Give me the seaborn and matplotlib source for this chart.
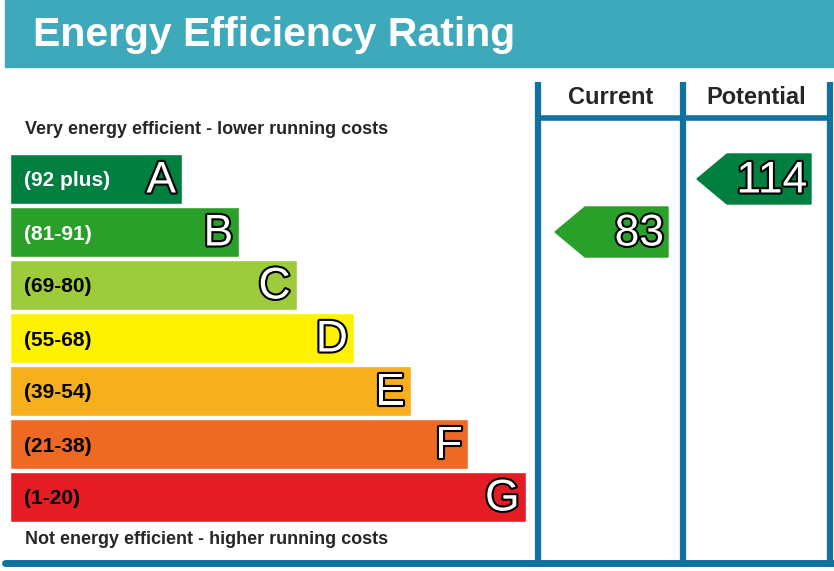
import matplotlib
matplotlib.use("Agg")
import matplotlib.pyplot as plt
import matplotlib.patheffects as pe
from matplotlib.patches import Rectangle, Polygon
import seaborn as sns

# data
letters = ["A", "B", "C", "D", "E", "F", "G"]
ranges = ["(92 plus)", "(81-91)", "(69-80)", "(55-68)", "(39-54)", "(21-38)", "(1-20)"]
colors = ["#008040", "#2a9f2a", "#9dcb3c", "#fff200", "#f7af1d", "#ee6a24", "#e31d23"]
current_value = 83
current_band = "B"
potential_value = 114
potential_band = "A"

sns.set_style("white")
plt.rcParams["font.family"] = ["Liberation Sans", "DejaVu Sans"]

fig = plt.figure(figsize=(8.34, 5.71), dpi=100)
ax = fig.add_axes([0, 0, 1, 1])
ax.set_xlim(0, 834)
ax.set_ylim(571, 0)
ax.axis("off")

blue = "#1172a0"
# header
ax.add_patch(Rectangle((5, 0), 829, 67, color="#3da9bb"))
ax.text(33, 35, "Energy Efficiency Rating", color="white", fontsize=29.5,
        fontweight="bold", va="center")

# bands
tops = [154 + 53.0 * i for i in range(7)]
centers = [t + 25 for t in tops]
widths = [172 + 57.3 * i for i in range(7)]
ax.barh(centers, widths, left=10, height=50, color=colors)
outline = [pe.withStroke(linewidth=3, foreground="black")]
for c, w, r, l in zip(centers, widths, ranges, letters):
    ax.text(24, c + 2, r, fontsize=15, fontweight="bold", va="center",
            color="white" if l in "AB" else "black")
    ax.text(10 + w - 6, c + 2, l, fontsize=32, color="white", va="center",
            ha="right", path_effects=outline)

ax.text(25, 130, "Very energy efficient - lower running costs", fontsize=13,
        fontweight="bold", va="center")
ax.text(25, 540, "Not energy efficient - higher running costs", fontsize=13,
        fontweight="bold", va="center")

# columns
for x in [538, 683, 830]:
    ax.plot([x, x], [82, 562], color=blue, lw=4.5, solid_capstyle="butt")
ax.plot([538, 830], [118, 118], color=blue, lw=4)
ax.plot([5, 834], [563, 563], color=blue, lw=5)
ax.text(611, 98, "Current", fontsize=17, fontweight="bold", ha="center", va="center")
ax.text(756, 98, "Potential", fontsize=17, fontweight="bold", ha="center", va="center")


def arrow(x0, x1, band, value):
    i = letters.index(band)
    top = tops[i]
    bot = top + 50
    mid = (top + bot) / 2
    pts = [(x0, mid), (x0 + 30, top), (x1, top), (x1, bot), (x0 + 30, bot)]
    ax.add_patch(Polygon(pts, closed=True, color=colors[i]))
    ax.text(x1 - 4, mid + 2, str(value), fontsize=32, color="white",
            ha="right", va="center", path_effects=outline)


arrow(555, 668, current_band, current_value)
arrow(697, 811, potential_band, potential_value)

fig.savefig("out.png", dpi=100)
